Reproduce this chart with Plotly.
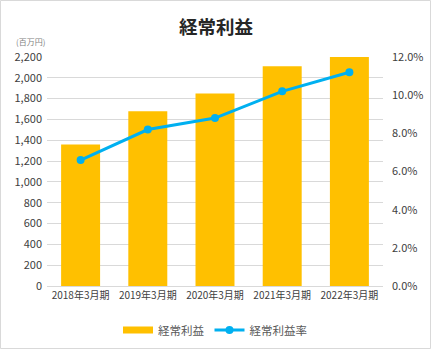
import plotly.graph_objects as go

# Fiscal periods and figures
periods = ["2018年3月期", "2019年3月期", "2020年3月期", "2021年3月期", "2022年3月期"]
ordinary_profit = [1360, 1680, 1850, 2110, 2200]          # 百万円
ordinary_margin = [0.066, 0.082, 0.088, 0.102, 0.112]     # 経常利益率

FONT = "Noto Sans CJK JP"
BAR_COLOR = "#FFC000"
LINE_COLOR = "#00B0F0"
W, H = 432, 350
ML, MR, MT, MB = 47, 49, 57, 64

fig = go.Figure()
fig.add_trace(go.Bar(
    x=periods, y=ordinary_profit, name="経常利益",
    marker=dict(color=BAR_COLOR, line=dict(width=0)),
    yaxis="y", showlegend=False,
))
# wide flat legend swatch for the bar series
fig.add_trace(go.Scatter(
    x=[None], y=[None], name="経常利益", mode="lines",
    line=dict(color=BAR_COLOR, width=7), yaxis="y",
))
fig.add_trace(go.Scatter(
    x=periods, y=ordinary_margin, name="経常利益率",
    mode="lines+markers",
    line=dict(color=LINE_COLOR, width=3),
    marker=dict(color=LINE_COLOR, size=8),
    yaxis="y2",
))

pw = W - ML - MR
ph = H - MT - MB

tick_font = dict(family=FONT, size=11, color="#404040")

fig.update_layout(
    width=W, height=H,
    margin=dict(l=ML, r=MR, t=MT, b=MB, pad=0, autoexpand=False),
    paper_bgcolor="white", plot_bgcolor="white",
    font=dict(family=FONT, color="#595959", size=10),
    bargap=0.42,
    title=dict(text="<b>経常利益</b>", x=0.5, xanchor="center", y=1 - 28 / H, yanchor="middle",
               font=dict(family=FONT, size=18.5, color="#262626")),
    xaxis=dict(showgrid=False, showline=True, linecolor="#D9D9D9", linewidth=1,
               ticks="", tickfont=dict(family=FONT, size=10, color="#404040"),
               automargin=False),
    yaxis=dict(range=[0, 2200], dtick=200, tickformat=",", showgrid=True,
               gridcolor="#D9D9D9", gridwidth=1, zeroline=False, ticks="",
               tickfont=tick_font, ticklabelstandoff=4, automargin=False),
    yaxis2=dict(range=[0, 0.12], dtick=0.02, tickformat=".1%", overlaying="y",
                side="right", showgrid=False, zeroline=False, ticks="",
                tickfont=tick_font, ticklabelstandoff=8, automargin=False),
    legend=dict(orientation="h", x=0.5, xanchor="center",
                xref="paper", yref="container", y=1 - 330 / H,
                yanchor="middle", font=dict(family=FONT, size=11.5, color="#595959"),
                traceorder="normal", itemwidth=30),
    showlegend=True,
    annotations=[dict(text="(百万円)", xref="paper", yref="paper",
                      x=-(ML - 14) / pw, y=1 + (MT - 42) / ph, xanchor="left",
                      yanchor="middle", showarrow=False,
                      font=dict(size=8, color="#7F7F7F"))],
    shapes=[dict(type="rect", xref="paper", yref="paper",
                 x0=-(ML - 0.5) / pw, x1=1 + (MR - 1.5) / pw,
                 y0=-(MB - 1.5) / ph, y1=1 + (MT - 0.5) / ph,
                 line=dict(color="#D9D9D9", width=1), layer="below")],
)

fig.write_html("out.html")
